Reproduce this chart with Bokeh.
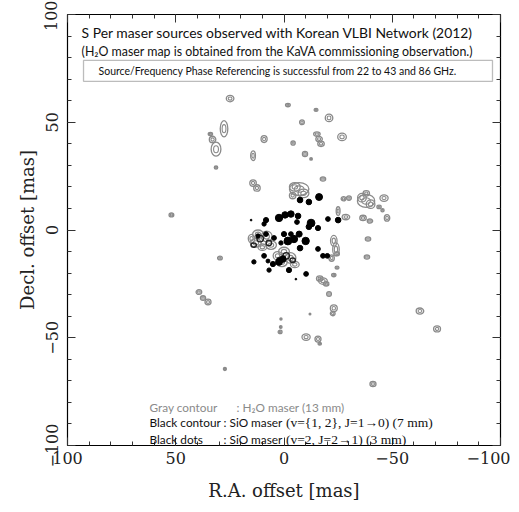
import numpy as np
from bokeh.plotting import figure
from bokeh.models import (Range1d, FixedTicker, LinearAxis, Label, BoxAnnotation,
                          ColumnDataSource)
from bokeh.embed import file_html
from bokeh.resources import INLINE

# ---------------- data (mas) ----------------
# H2O maser spots (gray contours): RA offset, Dec offset, width, height
h2o_ra = [24.9, 27.7, 34.0, 33.0, 31.4, 31.4, 9.2, 14.3,
          -1.8, -14.8, -20.8, -8.3, -15.2, -16.2, -17.1, -26.8, -4.2, -9.7, -12.5, -18.0,
          14.3, 12.5, -7.0, -5.0, -9.0, -4.0, -27.5, -30.0, -25.0, -28.6,
          -37.9, -36.0, -40.0, -38.0, -46.2, -43.9, -45.5, -36.5, -39.7, -47.6, -38.8, -38.3,
          12.0, 8.0, 13.0, 6.0, 10.0, 15.0,
          0.0, -3.0, 1.0, -5.0, 3.0,
          -23.0, -24.0, -22.0,
          -18.0, -16.5, -19.5, -23.0, -24.5, -24.5, -20.8, -23.0, -22.5,
          29.6, 39.3, 37.4, 35.1, 27.3, 1.4, 1.8, 1.5,
          -10.2, -15.7, -16.5, -12.0, -62.8, -70.7, -41.1, 52.0]
h2o_dec = [61.0, 47.0, 44.5, 42.0, 37.5, 29.0, 42.2, 34.5,
           58.0, 55.7, 52.0, 50.0, 44.5, 42.2, 40.0, 43.2, 40.4, 35.3, 33.0, 23.7,
           21.8, 19.5, 19.0, 20.0, 17.0, 16.0, 14.5, 14.8, 8.8, 6.0,
           13.5, 15.0, 12.0, 17.0, 14.8, 10.7, 9.2, 5.6, 4.2, 5.6, -4.2, -12.5,
           -2.0, -3.0, -6.0, -7.0, -8.0, -4.0,
           -10.0, -13.0, -15.0, -16.0, -12.0,
           -5.0, -9.0, -13.0,
           -23.7, -22.5, -25.0, -20.9, -17.5, -11.0, -29.7, -36.3, -38.8,
           -13.0, -28.8, -31.6, -33.4, -64.5, -41.3, -47.3, -45.0,
           -49.7, -50.6, -52.8, -39.0, -37.6, -45.9, -71.5, 7.0]
h2o_w = [3.5, 3.5, 2.0, 3.0, 4.5, 1.6, 2.8, 2.2,
         2.2, 1.8, 3.5, 2.2, 3.0, 3.0, 3.0, 4.0, 2.0, 2.4, 1.2, 2.5,
         3.0, 3.0, 9.0, 5.0, 5.0, 3.0, 2.2, 2.2, 1.8, 3.5,
         8.0, 4.0, 4.0, 3.0, 3.8, 2.0, 1.5, 3.0, 2.5, 2.5, 2.5, 2.5,
         5.0, 5.0, 5.0, 5.0, 4.0, 3.0,
         5.0, 5.0, 5.0, 4.0, 4.0,
         3.0, 3.0, 2.5,
         4.0, 3.0, 2.5, 2.0, 1.8, 2.2, 2.2, 3.2, 2.2,
         2.2, 2.6, 2.4, 2.8, 1.4, 1.0, 1.8, 1.2,
         3.8, 2.8, 1.6, 0.8, 3.5, 3.2, 2.8, 2.2]
h2o_h = [3.0, 7.5, 1.5, 3.0, 6.5, 1.6, 3.2, 4.5,
         1.6, 1.4, 3.5, 2.2, 2.0, 2.5, 2.5, 3.5, 2.0, 2.4, 1.2, 2.0,
         3.0, 3.0, 6.0, 4.0, 4.0, 3.0, 2.0, 2.0, 4.0, 2.5,
         6.0, 4.0, 4.0, 2.5, 3.0, 1.6, 1.5, 2.5, 2.0, 3.0, 2.0, 2.0,
         4.0, 5.0, 4.0, 4.0, 3.0, 4.0,
         4.0, 5.0, 4.0, 3.0, 4.0,
         5.0, 6.0, 3.0,
         3.0, 2.5, 2.0, 1.6, 1.4, 2.0, 2.2, 3.2, 2.0,
         1.8, 2.2, 2.2, 2.6, 1.4, 1.0, 1.6, 1.2,
         3.0, 2.8, 1.2, 0.8, 2.8, 2.8, 2.4, 1.8]

# SiO maser v=1,2 J=1-0 (black contours)
sio7_ra = [11.0, 7.0, 14.0, -1.0, 2.0, -4.0]
sio7_dec = [-4.0, -6.0, -7.0, -12.0, -14.0, -14.0]
sio7_w = [3.0, 2.5, 2.5, 3.0, 2.5, 2.5]
sio7_h = [3.0, 2.5, 2.0, 3.0, 2.5, 2.0]

# SiO maser v=2 J=2-1 (black dots): RA, Dec, diameter
sio3_ra = [-16.2, -7.4, -11.5, 15.2, 8.3, 9.2, 2.3, -0.5, -3.2, -6.5,
           -6.0, -12.5, -11.5, -15.7, -20.3, -25.0, 0.0, -3.2, -7.0,
           -1.8, -4.6, -10.0, -7.4, -15.7, -18.0, -20.0, 8.3, 12.0, 4.6, 1.4,
           9.2, 13.9, 7.4, 5.1, 2.3, 0.5, 6.9, -2.3, -10.2, -5.5]
sio3_dec = [15.3, 13.9, 13.0, 4.6, 4.6, 2.8, 5.6, 7.0, 7.4, 6.5,
            3.7, 3.2, 1.5, 0.9, 5.1, 4.6, -1.9, -1.9, -1.9,
            -5.1, -4.2, -5.1, -8.4, -8.8, -12.0, -12.0, -1.9, -2.8, -3.7, -6.0,
            -12.0, -14.8, -14.4, -15.8, -14.8, -13.5, -18.6, -18.6, -20.4, -22.8]
sio3_d = [3.2, 2.6, 2.6, 0.8, 2.4, 2.0, 3.4, 3.0, 3.0, 2.6,
          2.2, 3.6, 2.6, 2.4, 2.2, 2.6, 2.4, 2.2, 2.8,
          3.6, 3.4, 3.4, 2.6, 2.2, 2.2, 2.2, 2.2, 2.0, 2.2, 2.0,
          2.2, 2.0, 1.8, 2.4, 3.2, 3.0, 2.0, 2.4, 2.2, 0.8]

x_ticks = [-100, -50, 0, 50, 100]
y_ticks = [-100, -50, 0, 50, 100]
minor = list(range(-100, 101, 10))
tick_text = {-100: "\u2212100", -50: "\u221250", 0: "0", 50: "50", 100: "100"}

# ---------------- figure ----------------
p = figure(output_backend="svg", toolbar_location=None,
           frame_width=433, frame_height=431,
           x_range=Range1d(100, -100), y_range=Range1d(-100, 100),
           min_border_left=67, min_border_right=10, min_border_top=14,
           min_border_bottom=58, x_axis_location=None, y_axis_location=None)
p.grid.visible = False
p.outline_line_color = "black"
p.outline_line_width = 1.2
p.background_fill_color = "white"
p.border_fill_color = "white"

serif = "DejaVu Serif"


def make_axis(show_labels, label=None):
    ax = LinearAxis(ticker=FixedTicker(ticks=x_ticks, minor_ticks=minor))
    ax.major_tick_in = 8
    ax.major_tick_out = 0
    ax.minor_tick_in = 4
    ax.minor_tick_out = 0
    ax.axis_line_color = None
    ax.major_tick_line_color = "#333333"
    ax.minor_tick_line_color = "#333333"
    if show_labels:
        ax.major_label_overrides = tick_text
        ax.major_label_text_font = serif
        ax.major_label_text_font_size = "16px"
        ax.major_label_text_color = "#222222"
        ax.major_label_standoff = 6
        if label:
            ax.axis_label = label
            ax.axis_label_text_font = serif
            ax.axis_label_text_font_size = "18px"
            ax.axis_label_text_font_style = "normal"
            ax.axis_label_text_color = "#222222"
            ax.axis_label_standoff = 13
    else:
        ax.major_label_overrides = {t: "" for t in x_ticks}
        ax.major_label_standoff = 0
    return ax


bx = make_axis(True, "R.A. offset [mas]")
p.add_layout(bx, "below")
ly = make_axis(True, "Decl. offset [mas]")
ly.major_label_orientation = "vertical"
ly.major_label_standoff = 10
ly.axis_label_standoff = 5
p.add_layout(ly, "left")
p.add_layout(make_axis(False), "above")
p.add_layout(make_axis(False), "right")

# ---------------- glyphs ----------------
h2o = ColumnDataSource(dict(x=h2o_ra, y=h2o_dec, w=h2o_w, h=h2o_h,
                            wi=list(np.array(h2o_w) * 0.5), hi=list(np.array(h2o_h) * 0.5)))
gray = "#8a8a8a"
p.ellipse(x="x", y="y", width="w", height="h", source=h2o,
          fill_alpha=0, line_color=gray, line_width=1.3)
p.ellipse(x="x", y="y", width="wi", height="hi", source=h2o,
          fill_alpha=0, line_color=gray, line_width=1.1)

sio7 = ColumnDataSource(dict(x=sio7_ra, y=sio7_dec, w=sio7_w, h=sio7_h))
p.ellipse(x="x", y="y", width="w", height="h", source=sio7,
          fill_alpha=0, line_color="#222222", line_width=1.4)

sio3 = ColumnDataSource(dict(x=sio3_ra, y=sio3_dec, r=list(np.array(sio3_d) / 2)))
p.circle(x="x", y="y", radius="r", source=sio3, fill_color="black", line_color="black")

# ---------------- texts ----------------
sans = "Lato"
p.add_layout(Label(x=93.5, y=91.6, text="S Per maser sources observed with Korean VLBI Network (2012)",
                   text_font=sans, text_font_size="13.9px", text_color="#111111",
                   text_baseline="alphabetic", text_align="left"))
p.add_layout(Label(x=93.5, y=82.6,
                   text="(H\u2082O maser map is obtained from the KaVA commissioning observation.)",
                   text_font=sans, text_font_size="12.4px", text_color="#111111",
                   text_baseline="alphabetic", text_align="left"))
p.add_layout(BoxAnnotation(left=92.6, right=-96.3, bottom=69.0, top=78.7,
                           fill_alpha=0, line_color="#222222", line_width=1.3))
p.add_layout(Label(x=3.0, y=73.8,
                   text="Source/Frequency Phase Referencing is successful from 22 to 43 and 86 GHz.",
                   text_font=sans, text_font_size="10.5px", text_color="#111111",
                   text_baseline="middle", text_align="center"))

leg_y = [-82.3, -89.3, -97.0]
fs = "11.8px"
p.add_layout(Label(x=62.1, y=leg_y[0], text="Gray contour", text_font=sans,
                   text_font_size=fs, text_color="#8a8a8a", text_baseline="alphabetic"))
p.add_layout(Label(x=21.9, y=leg_y[0], text=": H\u2082O maser (13 mm)", text_font=sans,
                   text_font_size=fs, text_color="#8a8a8a", text_baseline="alphabetic"))
p.add_layout(Label(x=62.1, y=leg_y[1], text="Black contour", text_font=sans,
                   text_font_size=fs, text_color="#111111", text_baseline="alphabetic"))
p.add_layout(Label(x=27.9, y=leg_y[1], text=": SiO maser", text_font=sans,
                   text_font_size=fs, text_color="#111111", text_baseline="alphabetic"))
p.add_layout(Label(x=-0.9, y=leg_y[1], text="(v={1, 2}, J=1\u21920) (7 mm)",
                   text_font="Liberation Serif",
                   text_font_size="13.5px", text_color="#111111", text_baseline="alphabetic"))
p.add_layout(Label(x=62.1, y=leg_y[2], text="Black dots", text_font=sans,
                   text_font_size=fs, text_color="#111111", text_baseline="alphabetic"))
p.add_layout(Label(x=27.9, y=leg_y[2], text=": SiO maser", text_font=sans,
                   text_font_size=fs, text_color="#111111", text_baseline="alphabetic"))
p.add_layout(Label(x=-0.9, y=leg_y[2], text="(v=2, J=2\u21921) (3 mm)",
                   text_font="Liberation Serif",
                   text_font_size="13.5px", text_color="#111111", text_baseline="alphabetic"))

open("out.html", "w").write(file_html(p, INLINE))
